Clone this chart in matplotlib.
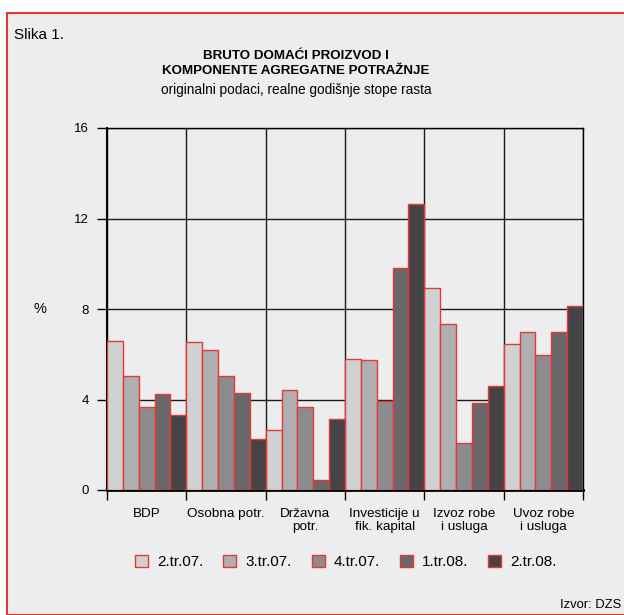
import matplotlib
matplotlib.use("Agg")
import matplotlib.pyplot as plt
from matplotlib.patches import Rectangle, Patch
import numpy as np

categories = ["BDP", "Osobna potr.", "Državna\npotr.", "Investicije u\nfik. kapital",
              "Izvoz robe\ni usluga", "Uvoz robe\ni usluga"]
series_names = ["2.tr.07.", "3.tr.07.", "4.tr.07.", "1.tr.08.", "2.tr.08."]
s_2tr07 = [6.6, 6.54, 2.65, 5.81, 8.95, 6.44]
s_3tr07 = [5.05, 6.17, 4.43, 5.74, 7.34, 7.0]
s_4tr07 = [3.67, 5.02, 3.65, 3.95, 2.09, 5.98]
s_1tr08 = [4.24, 4.29, 0.44, 9.83, 3.83, 6.97]
s_2tr08 = [3.33, 2.24, 3.15, 12.65, 4.6, 8.14]
series = [s_2tr07, s_3tr07, s_4tr07, s_1tr08, s_2tr08]
colors = ["#D0D1D3", "#AEAFB2", "#8C8C90", "#68676C", "#454348"]
yticks = [0, 4, 8, 12, 16]

plt.rcParams['font.family'] = ['Liberation Sans', 'DejaVu Sans']

W, H = 624, 615
fig = plt.figure(figsize=(W / 100, H / 100), dpi=100, facecolor="white")

# background panel with red frame
bg = Rectangle((7 / W, 0), 1.0, 1 - 13 / H, transform=fig.transFigure,
               facecolor="#ECEDEF", edgecolor="#E8392E", linewidth=1.5, zorder=-10)
fig.patches.append(bg)

ax = fig.add_axes([107 / W, 1 - 490 / H, 476 / W, 362 / H])
ax.set_facecolor("#ECEDEF")
ax.set_zorder(1)

n = len(series)
w = 1.0 / n
x = np.arange(len(categories))
for j, (vals, c) in enumerate(zip(series, colors)):
    ax.bar(x + (j - (n - 1) / 2) * w, vals, width=w, color=c,
           edgecolor="#E8392E", linewidth=1.0, label=series_names[j], zorder=3)

ax.set_xlim(-0.5, len(categories) - 0.5)
ax.set_ylim(0, 16)
ax.set_yticks(yticks)
ax.set_yticklabels([str(t) for t in yticks], fontsize=9.5)
ax.tick_params(axis='y', length=7, width=1, color="black", pad=6)

bounds = np.arange(len(categories) + 1) - 0.5
ax.set_xticks(bounds)
ax.set_xticklabels([""] * len(bounds))
ax.tick_params(axis='x', which='major', length=7, width=1, color="black")
ax.set_xticks(x, minor=True)
ax.set_xticklabels(categories, minor=True, fontsize=9.7, linespacing=1.1)
ax.tick_params(axis='x', which='minor', length=0, pad=13)

ax.set_axisbelow(True)
ax.grid(True, axis='both', which='major', color="#1a1a1a", linewidth=1.0)
for sp in ax.spines.values():
    sp.set_color("black")
    sp.set_linewidth(1.0)
ax.spines['bottom'].set_linewidth(2.0)
ax.spines['left'].set_linewidth(1.5)

ax.set_ylabel("%", rotation=0, fontsize=10.5, va='center', ha='center')
ax.yaxis.set_label_coords((40 - 107) / 476, 0.5)

fig.text(14 / W, 1 - 35 / H, "Slika 1.", fontsize=11, va='center', ha='left')
fig.text(296 / W, 1 - 56 / H, "BRUTO DOMAĆI PROIZVOD I", fontsize=9.6,
         fontweight='bold', ha='center', va='center')
fig.text(296 / W, 1 - 71 / H, "KOMPONENTE AGREGATNE POTRAŽNJE", fontsize=9.6,
         fontweight='bold', ha='center', va='center')
fig.text(296 / W, 1 - 90 / H, "originalni podaci, realne godišnje stope rasta",
         fontsize=9.8, ha='center', va='center')

handles = [Patch(facecolor=c, edgecolor="#E8392E", linewidth=1.0) for c in colors]
fig.legend(handles, series_names, loc='center', ncol=5,
           bbox_to_anchor=(346 / W, 1 - 562 / H), frameon=False, fontsize=11,
           handlelength=0.85, handleheight=0.85, columnspacing=1.3,
           handletextpad=0.6)

fig.text(621 / W, 1 - 605 / H, "Izvor: DZS", fontsize=9.4, ha='right', va='center')

fig.savefig("out.png", dpi=100, facecolor=fig.get_facecolor())
